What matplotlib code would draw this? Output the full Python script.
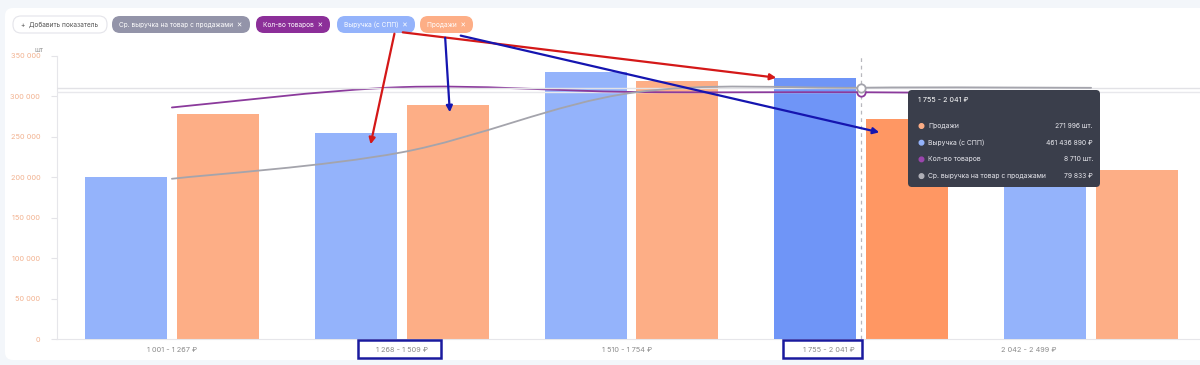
import numpy as np
import matplotlib
matplotlib.use('Agg')
import matplotlib.pyplot as plt
from matplotlib.path import Path
from matplotlib.patches import PathPatch, FancyBboxPatch, FancyArrowPatch, Rectangle, Circle
from matplotlib.transforms import Affine2D

plt.rcParams['font.family'] = ['Inter', 'DejaVu Sans']

# data
price_ranges = ['1 001 - 1 267 ₽', '1 268 - 1 509 ₽', '1 510 - 1 754 ₽', '1 755 - 2 041 ₽', '2 042 - 2 499 ₽']
sales = [278000, 288700, 319100, 271996, 208800]               # Продажи, шт.
revenue = [286500000, 363000000, 471700000, 461436890, 280600000]  # Выручка (с СПП), ₽
items = [8173, 8890, 8720, 8710, 8650]                          # Кол-во товаров, шт.
avg_rev = [50900, 59300, 78200, 79833, 79800]                   # Ср. выручка на товар с продажами, ₽
y_ticks = [0, 50000, 100000, 150000, 200000, 250000, 300000, 350000]
hovered = 3

W, H = 1200, 365
BLUE = '#94b3fb'
BLUE_HOVER = '#6f95f7'
ORANGE = '#fdae86'
ORANGE_HOVER = '#ff9763'
PURPLE = '#8b3a9c'
GRAY = '#a4a4ac'


def fmt(v):
    return f'{v:,}'.replace(',', ' ')


def smooth_line(ax, xs, ys, color, lw):
    # cubic bezier path through the points (Catmull-Rom style control points)
    pts = np.column_stack([xs, ys]).astype(float)
    verts = [pts[0]]
    codes = [Path.MOVETO]
    n = len(pts)
    for i in range(n - 1):
        p0 = pts[max(i - 1, 0)]
        p1 = pts[i]
        p2 = pts[i + 1]
        p3 = pts[min(i + 2, n - 1)]
        c1 = p1 + (p2 - p0) / 6
        c2 = p2 - (p3 - p1) / 6
        verts += [c1, c2, p2]
        codes += [Path.CURVE4] * 3
    ax.add_patch(PathPatch(Path(verts, codes), facecolor='none', edgecolor=color, lw=lw,
                           capstyle='round', zorder=5))


fig = plt.figure(figsize=(12, 3.65), dpi=100)
fig.patch.set_facecolor('#f3f6fa')
# screen pixel coordinates, origin top-left
pxt = Affine2D().scale(1 / 100, -1 / 100).translate(0, H / 100) + fig.dpi_scale_trans

fig.add_artist(FancyBboxPatch((5, 8), 1300, 352, boxstyle='round,pad=0,rounding_size=8',
                              transform=pxt, facecolor='white', edgecolor='none', zorder=0))

# plot area: x 57..1200 px, y 55.7..339 px
left, right, top, bottom = 57, 1200, 55.7, 339
ax = fig.add_axes([left / W, 1 - bottom / H, (right - left) / W, (bottom - top) / H])
ax.patch.set_alpha(0)
x = np.arange(len(price_ranges))
group_px = 230
ax.set_xlim(-0.5, -0.5 + (right - 56) / group_px)
ax.set_ylim(0, 350000)

bw = 82 / group_px
off = 46 / group_px
orange_cols = [ORANGE_HOVER if i == hovered else ORANGE for i in x]
ax.bar(x + off, sales, width=bw, color=orange_cols, zorder=2)

ax.set_yticks(y_ticks)
ax.set_yticklabels([fmt(v) for v in y_ticks], fontsize=5.3, color='#f2b290')
ax.tick_params(axis='y', length=4, color='#e4e4e8', pad=8)
# x labels are not centred on the last groups in the screenshot
ax.set_xticks([0, 1, 1.98, 2.86, 3.73])
ax.set_xticklabels(price_ranges, fontsize=5.3, color='#8c8c8c')
ax.tick_params(axis='x', length=0, pad=6)
for s in ['top', 'right']:
    ax.spines[s].set_visible(False)
ax.spines['left'].set_color('#e6e6ea')
ax.spines['bottom'].set_color('#e6e6ea')
ax.text(-0.012, 1.01, 'шт', transform=ax.transAxes, fontsize=5, color='#9a9a9a', ha='right', va='bottom')
ax.axvline(hovered, color='#b8b8be', lw=0.9, ls=(0, (3, 3)), zorder=4)

# revenue bars on own hidden scale
ax_rev = ax.twinx()
ax_rev.set_ylim(0, 500000000)
blue_cols = [BLUE_HOVER if i == hovered else BLUE for i in x]
ax_rev.bar(x - off, revenue, width=bw, color=blue_cols, zorder=2)

# lines on their own hidden scales
ax_cnt = ax.twinx()
ax_cnt.set_ylim(0, 10000)
ax_avg = ax.twinx()
ax_avg.set_ylim(0, 90000)

ax_avg.axhline(avg_rev[hovered], color='#e2e2e6', lw=1, zorder=1)
ax_cnt.axhline(items[hovered], color='#e8e8ec', lw=1, zorder=1)
smooth_line(ax_avg, x, avg_rev, GRAY, 1.3)
smooth_line(ax_cnt, x, items, PURPLE, 1.3)
ax_avg.plot([hovered], [avg_rev[hovered]], 'o', ms=6, mfc='white', mec=GRAY, mew=1.3, zorder=6)
ax_cnt.plot([hovered], [items[hovered]], 'o', ms=6, mfc='white', mec=PURPLE, mew=1.3, zorder=6)

for a in [ax_rev, ax_cnt, ax_avg]:
    a.axis('off')
    a.set_xlim(ax.get_xlim())

# chips on top
chips = [
    ('+  Добавить показатель', 13, 107, 'white', '#555555', '#e4e4ea'),
    ('Ср. выручка на товар с продажами  ✕', 112, 250, '#9394a9', 'white', 'none'),
    ('Кол-во товаров  ✕', 256, 330, '#8c2f99', 'white', 'none'),
    ('Выручка (с СПП)  ✕', 337, 415, BLUE, 'white', 'none'),
    ('Продажи  ✕', 420, 473, ORANGE, 'white', 'none'),
]
for label, x0, x1, fc, tc, ec in chips:
    fig.add_artist(FancyBboxPatch((x0, 16), x1 - x0, 17, boxstyle='round,pad=0,rounding_size=8',
                                  transform=pxt, facecolor=fc, edgecolor=ec, lw=0.8))
    fig.text((x0 + x1) / 2, 24.5, label, transform=pxt, fontsize=4.7, color=tc,
             ha='center', va='center')

# tooltip for the hovered group
tx0, tx1, ty0, ty1 = 908, 1100, 90, 187
fig.add_artist(FancyBboxPatch((tx0, ty0), tx1 - tx0, ty1 - ty0, boxstyle='round,pad=0,rounding_size=4',
                              transform=pxt, facecolor='#3a3e4b', edgecolor='none', zorder=5))
fig.text(918, 100.5, price_ranges[hovered], transform=pxt, fontsize=5.2, color='white',
         va='center', zorder=6)
rows = [
    ('Продажи', fmt(sales[hovered]) + ' шт.', ORANGE),
    ('Выручка (с СПП)', fmt(revenue[hovered]) + ' ₽', BLUE),
    ('Кол-во товаров', fmt(items[hovered]) + ' шт.', '#9b45ad'),
    ('Ср. выручка на товар с продажами', fmt(avg_rev[hovered]) + ' ₽', '#b0b0b8'),
]
for i, (name, val, c) in enumerate(rows):
    yy = 126 + i * 16.7
    fig.add_artist(Circle((921.5, yy), 2.3, transform=pxt, color=c, zorder=6))
    fig.text(928, yy, name, transform=pxt, fontsize=4.9, color='#e8e8ee', va='center', zorder=6)
    fig.text(1093, yy, val, transform=pxt, fontsize=4.9, color='#e8e8ee', va='center',
             ha='right', zorder=6)

# annotation marks drawn over the screenshot
for (xa, ya), (xb, yb), c in [((395, 31), (370, 147), '#d41818'),
                              ((400, 32), (779, 78), '#d41818'),
                              ((445, 35), (450, 115), '#1515b0'),
                              ((458, 35), (882, 133), '#1515b0')]:
    fig.add_artist(FancyArrowPatch((xa, ya), (xb, yb), transform=pxt,
                                   arrowstyle='-|>', mutation_scale=9, color=c, lw=1.6, zorder=7))
for x0, x1 in [(358, 441), (783, 862)]:
    fig.add_artist(Rectangle((x0, 340), x1 - x0, 18, transform=pxt,
                             fill=False, edgecolor='#1a1a9e', lw=1.8, zorder=7))

fig.savefig('out.png', dpi=100, facecolor=fig.get_facecolor())
